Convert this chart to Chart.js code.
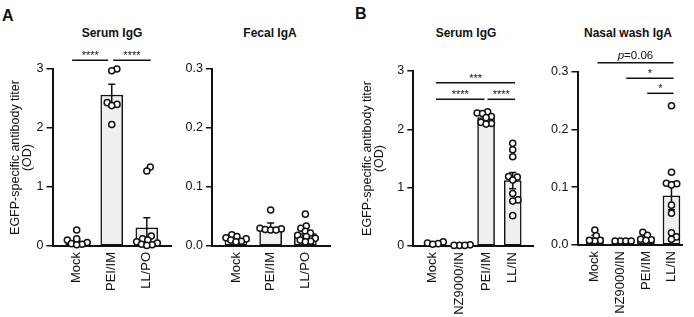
<!DOCTYPE html>
<html lang="en">
<head>
  <meta charset="UTF-8" />
  <title>EGFP-specific antibody titers</title>
  <script src="https://cdn.jsdelivr.net/npm/chart.js"></script>
  <style>
    body {
      margin: 0;
      background: #fff;
      font-family: "Liberation Sans", Arial, sans-serif;
    }
    #fig {
      position: relative;
      width: 694px;
      height: 317px;
      overflow: hidden;
    }
    #fig canvas {
      position: absolute;
      top: 0;
    }
    .letter {
      position: absolute;
      font-weight: bold;
      font-size: 16px;
      line-height: 16px;
      color: #111;
    }
    .title {
      position: absolute;
      top: 27px;
      font-weight: bold;
      font-size: 12px;
      line-height: 12px;
      color: #111;
      white-space: nowrap;
      transform: translateX(-50%);
    }
  </style>
</head>
<body>
  <div id="fig">
    <div class="letter" style="left:2px;top:8px">A</div>
    <div class="letter" style="left:355px;top:6px">B</div>
    <div class="title" style="left:112px">Serum IgG</div>
    <div class="title" style="left:270px">Fecal IgA</div>
    <div class="title" style="left:466px">Serum IgG</div>
    <div class="title" style="left:628px">Nasal wash IgA</div>
    <canvas id="serumA" width="176" height="317" style="left:0px"></canvas>
    <canvas id="fecalA" width="158" height="317" style="left:176px"></canvas>
    <canvas id="serumB" width="192" height="317" style="left:345px"></canvas>
    <canvas id="nasalB" width="154" height="317" style="left:540px"></canvas>
  </div>

  <script>
    // ---- data ----
    const groupsA = ['Mock', 'PEI/IM', 'LL/PO'];
    const groupsB = ['Mock', 'NZ9000/IN', 'PEI/IM', 'LL/IN'];

    const ticksOD = [0, 1, 2, 3];
    const ticksIgA = [0, 0.1, 0.2, 0.3];

    // A - serum IgG
    const serumA_points = [
      [0.27, 0.12, 0.10, 0.06, 0.04, 0.03, 0.02],
      [3.00, 2.97, 2.43, 2.40, 2.38, 2.06],
      [1.34, 1.27, 0.17, 0.12, 0.10, 0.07, 0.05, 0.03, 0.02, 0.01]
    ];
    const serumA_mean = [0.08, 2.56, 0.31];
    const serumA_sem = [0.03, 0.18, 0.17];

    // A - fecal IgA
    const fecalA_points = [
      [0.019, 0.016, 0.014, 0.012, 0.010, 0.008, 0.007],
      [0.061, 0.030, 0.029, 0.028, 0.027, 0.027],
      [0.054, 0.034, 0.030, 0.025, 0.022, 0.018, 0.016, 0.013, 0.010, 0.008, 0.007]
    ];
    const fecalA_mean = [0.012, 0.032, 0.021];
    const fecalA_sem = [0.002, 0.007, 0.004];

    // B - serum IgG
    const serumB_points = [
      [0.07, 0.05, 0.04, 0.03],
      [0.02, 0.01, 0.01, 0.01],
      [2.30, 2.28, 2.27, 2.22, 2.20, 2.12, 2.10, 2.09],
      [1.76, 1.65, 1.53, 1.19, 1.18, 1.13, 0.90, 0.79, 0.77, 0.52]
    ];
    const serumB_mean = [0.05, 0.01, 2.20, 1.12];
    const serumB_sem = [0.01, 0.003, 0.03, 0.14];

    // B - nasal wash IgA
    const nasalB_points = [
      [0.026, 0.016, 0.008, 0.007, 0.008],
      [0.007, 0.007, 0.007, 0.007],
      [0.022, 0.017, 0.010, 0.009, 0.008],
      [0.241, 0.126, 0.107, 0.106, 0.104, 0.069, 0.055, 0.021, 0.014, 0.010]
    ];
    const nasalB_mean = [0.013, 0.007, 0.013, 0.085];
    const nasalB_sem = [0.004, 0.0005, 0.003, 0.024];

    // significance lines: from / to in group units, height in axis units
    const sigSerumA = [
      { from: -0.13, to: 0.90, at: 3.15, text: '****' },
      { from: 1.04, to: 2.11, at: 3.15, text: '****' }
    ];
    const sigFecalA = [];
    const sigSerumB = [
      { from: 0.12, to: 3.09, at: 2.80, text: '***' },
      { from: 0.12, to: 1.94, at: 2.515, text: '****' },
      { from: 2.05, to: 3.09, at: 2.515, text: '****' }
    ];
    const sigNasalB = [
      { from: 0.10, to: 3.08, at: 0.3156, text: 'p=0.06' },
      { from: 1.23, to: 3.08, at: 0.2886, text: '*' },
      { from: 2.05, to: 3.08, at: 0.2626, text: '*' }
    ];

    // ---- drawing ----
    const INK = '#111';
    const FONT = '"Liberation Sans", Arial, sans-serif';
    Chart.defaults.font.family = FONT;

    // simple beeswarm: x offsets (px) so dot centres stay at least d apart
    function swarm(ys, d) {
      const order = ys.map((_, i) => i).sort((a, b) => ys[b] - ys[a]);
      const xs = new Array(ys.length);
      const placed = [];
      for (const i of order) {
        const cands = [0];
        for (const j of placed) {
          const dy = ys[i] - ys[j];
          if (Math.abs(dy) < d) {
            const dx = Math.sqrt(d * d - dy * dy);
            cands.push(xs[j] + dx, xs[j] - dx);
          }
        }
        cands.sort((a, b) => Math.abs(a) - Math.abs(b));
        xs[i] = cands.find(c => placed.every(j => Math.hypot(c - xs[j], ys[i] - ys[j]) >= d - 0.01));
        placed.push(i);
      }
      return xs;
    }

    function marksPlugin(p) {
      return {
        id: 'marks',
        afterDatasetsDraw(chart) {
          const { ctx, scales: { x, y } } = chart;
          ctx.save();
          ctx.strokeStyle = INK;
          ctx.lineWidth = 1.5;
          // mean +/- SEM
          p.means.forEach((m, i) => {
            const cx = x.getPixelForValue(i);
            const top = y.getPixelForValue(m + p.sems[i]);
            const bot = y.getPixelForValue(Math.max(0, m - p.sems[i]));
            ctx.beginPath();
            ctx.moveTo(cx, top); ctx.lineTo(cx, bot);
            ctx.moveTo(cx - 3.5, top); ctx.lineTo(cx + 3.5, top);
            ctx.moveTo(cx - 3.5, bot); ctx.lineTo(cx + 3.5, bot);
            ctx.stroke();
          });
          // individual animals
          ctx.lineWidth = 1.5;
          ctx.fillStyle = '#fff';
          p.points.forEach((vals, i) => {
            const cx = x.getPixelForValue(i);
            const ys = vals.map(v => y.getPixelForValue(v));
            const xs = swarm(ys, 5.4);
            ys.forEach((py, k) => {
              ctx.beginPath();
              ctx.arc(cx + xs[k], py, 3.05, 0, Math.PI * 2);
              ctx.fill();
              ctx.stroke();
            });
          });
          ctx.restore();
        },
        afterDraw(chart) {
          const { ctx, scales: { x, y } } = chart;
          ctx.save();
          ctx.strokeStyle = INK;
          ctx.fillStyle = INK;
          ctx.lineWidth = 1.5;
          ctx.textBaseline = 'alphabetic';
          for (const s of p.sig) {
            const x1 = x.getPixelForValue(s.from);
            const x2 = x.getPixelForValue(s.to);
            const ly = y.getPixelForValue(s.at);
            ctx.beginPath();
            ctx.moveTo(x1, ly); ctx.lineTo(x2, ly);
            ctx.stroke();
            const mid = (x1 + x2) / 2;
            if (s.text.startsWith('p=')) {
              const rest = s.text.slice(1);
              ctx.font = 'italic 11.5px ' + FONT;
              const wp = ctx.measureText('p').width;
              ctx.font = '11.5px ' + FONT;
              const wr = ctx.measureText(rest).width;
              const left = mid - (wp + wr) / 2;
              ctx.textAlign = 'left';
              ctx.font = 'italic 11.5px ' + FONT;
              ctx.fillText('p', left, ly - 4);
              ctx.font = '11.5px ' + FONT;
              ctx.fillText(rest, left + wp, ly - 4);
            } else {
              ctx.textAlign = 'center';
              ctx.font = '11px ' + FONT;
              ctx.fillText(s.text, mid, ly - 1);
            }
          }
          ctx.restore();
        }
      };
    }

    function makePanel(id, p) {
      const canvas = document.getElementById(id);
      const W = canvas.width, H = canvas.height;
      new Chart(canvas, {
        type: 'bar',
        data: {
          datasets: [{
            data: p.means.map((m, i) => ({ x: i, y: m })),
            backgroundColor: '#efefef',
            borderColor: INK,
            borderWidth: 1.5,
            borderSkipped: false,
            barThickness: p.barPx
          }]
        },
        options: {
          responsive: false,
          animation: false,
          events: [],
          layout: { padding: { top: p.area.top, right: W - p.area.right, left: 0, bottom: 0 } },
          plugins: { legend: { display: false }, tooltip: { enabled: false } },
          scales: {
            x: {
              type: 'linear',
              min: p.xMin,
              max: p.xMax,
              offset: false,
              afterBuildTicks: s => { s.ticks = p.labels.map((_, i) => ({ value: i })); },
              afterFit: s => { s.height = H - p.area.bottom; },
              grid: { display: false, drawTicks: false },
              border: { display: true, color: INK, width: 2 },
              ticks: {
                autoSkip: false,
                minRotation: 90,
                maxRotation: 90,
                padding: 6,
                color: INK,
                font: { size: 13 },
                callback: v => p.labels[v]
              }
            },
            y: {
              min: 0,
              max: p.yTicks[p.yTicks.length - 1],
              afterBuildTicks: s => { s.ticks = p.yTicks.map(v => ({ value: v })); },
              afterFit: s => { s.width = p.area.left; },
              grid: { drawOnChartArea: false, drawTicks: true, tickLength: 6, color: INK, lineWidth: 1.5 },
              border: { display: true, color: INK, width: 2 },
              ticks: {
                padding: 3,
                color: INK,
                font: { size: 12.5 },
                callback: v => v.toFixed(p.decimals)
              },
              title: p.yTitle ? {
                display: true,
                text: ['EGFP-specific antibody titer', '(OD)'],
                color: INK,
                font: { size: 12.5, lineHeight: 0.95 },
                padding: { top: p.yTitlePad, bottom: 0 }
              } : { display: false }
            }
          }
        },
        plugins: [marksPlugin(p)]
      });
    }

    makePanel('serumA', {
      labels: groupsA, points: serumA_points, means: serumA_mean, sems: serumA_sem,
      yTicks: ticksOD, decimals: 0, sig: sigSerumA,
      area: { left: 52.5, top: 69, right: 171.7, bottom: 246 },
      xMin: -0.69, xMax: 2.71, barPx: 22, yTitle: true, yTitlePad: 9.8
    });

    makePanel('fecalA', {
      labels: groupsA, points: fecalA_points, means: fecalA_mean, sems: fecalA_sem,
      yTicks: ticksIgA, decimals: 1, sig: sigFecalA,
      area: { left: 36, top: 69, right: 154, bottom: 246 },
      xMin: -0.69, xMax: 2.71, barPx: 22, yTitle: false
    });

    makePanel('serumB', {
      labels: groupsB, points: serumB_points, means: serumB_mean, sems: serumB_sem,
      yTicks: ticksOD, decimals: 0, sig: sigSerumB,
      area: { left: 68.3, top: 71, right: 188, bottom: 246 },
      xMin: -0.73, xMax: 3.76, barPx: 17, yTitle: true, yTitlePad: 17
    });

    makePanel('nasalB', {
      labels: groupsB, points: nasalB_points, means: nasalB_mean, sems: nasalB_sem,
      yTicks: ticksIgA, decimals: 1, sig: sigNasalB,
      area: { left: 37.5, top: 71.7, right: 145, bottom: 245 },
      xMin: -0.68, xMax: 3.42, barPx: 17, yTitle: false
    });
  </script>
</body>
</html>
